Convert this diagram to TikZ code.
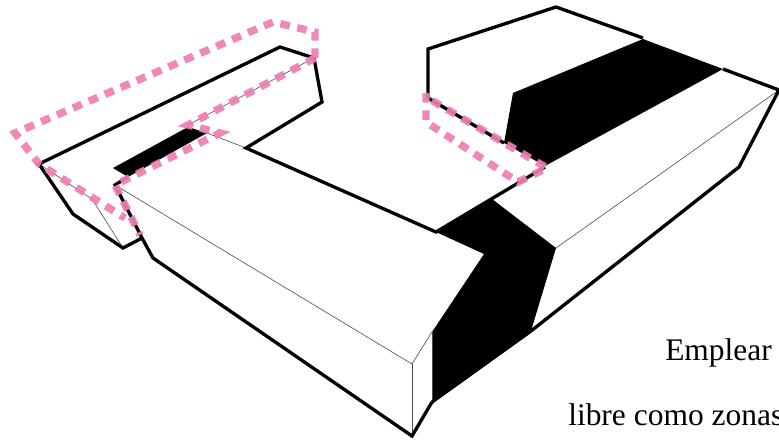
\documentclass[tikz,border=0pt]{standalone}
\usepackage{fontspec}
\setmainfont{Liberation Serif}
\definecolor{pinkdash}{HTML}{EE7DB2}
\tikzset{
  thick line/.style={draw=black,line width=2.5pt,line join=miter,miter limit=3},
  thin line/.style={draw=black!70,line width=0.45pt},
  solid black/.style={fill=black,draw=none},
  pink line/.style={draw=pinkdash,line width=5.6pt,dash pattern=on 7.2pt off 5.8pt,opacity=.92},
  caption/.style={anchor=base west,inner sep=0pt,font=\fontsize{23.6pt}{26pt}\selectfont,text=black}
}
\begin{document}
\begin{tikzpicture}[x=0.75pt,y=-0.75pt]
\useasboundingbox (0,0) rectangle (779,440);
\clip (0,0) rectangle (779,440);
% black faces
\fill[solid black] (113,168) -- (188,127) -- (207,133) -- (128,177) -- cycle;
\fill[solid black] (436,232) -- (492,199) -- (556,248) -- (531,331) -- (432,402) -- (432,332) -- (484,254) -- cycle;
\fill[solid black] (513,93) -- (643,39) -- (723,69) -- (545,166) -- (504,143) -- cycle;
% thin edges
\draw[thin line] (39,164) -- (92,199) -- (123,248);
\draw[thin line] (314,58) -- (188,125);
\draw[thin line] (207,133) -- (246,148);
\draw[thin line] (115,185) -- (412,364) -- (432,332);
\draw[thin line] (412,364) -- (412,436);
\draw[thin line] (432,332) -- (432,402);
\draw[thin line] (556,248) -- (779,90);
% thick outlines
\draw[thick line] (142,238) -- (123,248) -- (73,214) -- (39,164) -- (280,47) -- (314,58) -- (322,102) -- (246,148) -- (436,232) -- (545,167);
\draw[thick line] (128,177) -- (115,185) -- (142,238) -- (153,258) -- (412,436) -- (432,402);
\draw[thick line] (531,331) -- (739,167) -- (779,90) -- (723,69);
\draw[thick line] (643,38) -- (556,7) -- (428,49) -- (428,98) -- (504,143);
\draw[thick line] (531,331) -- (432,402);
% pink dashed zones
\draw[pink line] (315,58) -- (315,32) -- (273,22) -- (15,133) -- (39,164) -- (125,218);
\draw[pink line] (315,58) -- (188,125) -- (220,133) -- (115,185) -- (140,235);
\draw[pink line] (426,93) -- (426,122) -- (518,182) -- (547,168) -- (426,97);
% text
\node[caption] (emplear) at (665,360) {Emplear};
\node[caption] (libre) at (568,425) {libre como zonas};
\end{tikzpicture}
\end{document}
